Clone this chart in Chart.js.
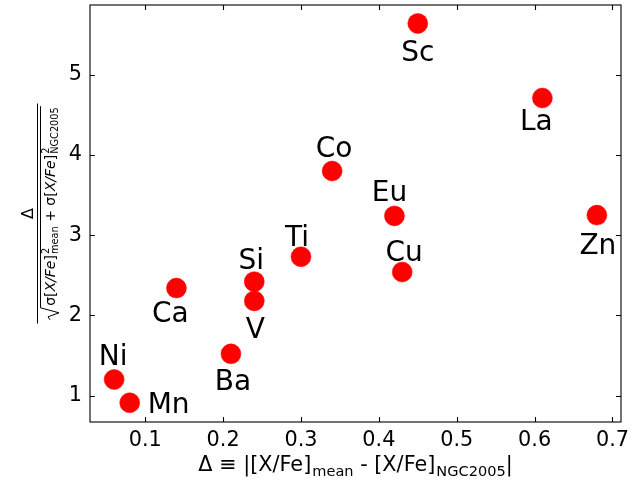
<!DOCTYPE html>
<html>
<head>
<meta charset="utf-8">
<script src="https://cdn.jsdelivr.net/npm/chart.js@4/dist/chart.umd.min.js"></script>
<style>
html,body{margin:0;padding:0;background:#fff;}
canvas{display:block;}
</style>
</head>
<body>
<canvas id="c" width="640" height="480"></canvas>
<script>
// ---- data ----
const elements = ["Ni","Mn","Ca","Ba","V","Si","Ti","Co","Eu","Cu","Sc","La","Zn"];
const deltaValues = [0.06,0.08,0.14,0.21,0.24,0.24,0.30,0.34,0.42,0.43,0.45,0.61,0.68];
const significance = [1.20,0.91,2.34,1.52,2.18,2.42,2.73,3.80,3.24,2.54,5.64,4.71,3.25];
const xTickValues = [0.1,0.2,0.3,0.4,0.5,0.6,0.7];
const yTickValues = [1,2,3,4,5];

// ---- styles (label placement in pixels relative to marker) ----
const labelStyle = {
  Ni:{dx:-1,dy:-14,align:"center"},
  Mn:{dx:18,dy:10,align:"left"},
  Ca:{dx:-6,dy:34,align:"center"},
  Ba:{dx:2,dy:36,align:"center"},
  V:{dx:1,dy:37,align:"center"},
  Si:{dx:-3,dy:-13,align:"center"},
  Ti:{dx:-4,dy:-11,align:"center"},
  Co:{dx:2,dy:-14,align:"center"},
  Eu:{dx:-5,dy:-15,align:"center"},
  Cu:{dx:2,dy:-11,align:"center"},
  Sc:{dx:0,dy:38,align:"center"},
  La:{dx:-6,dy:32,align:"center"},
  Zn:{dx:1,dy:39,align:"center"}
};
const FONT = "'DejaVu Sans'";

const points = deltaValues.map((x,i)=>({x:x,y:significance[i]}));

function drawMath(ctx, parts, x, baseline, size, measureOnly){
  let cx = x;
  for(const p of parts){
    if(p.stack){
      const s = size*0.7;
      ctx.font = s+"px "+FONT;
      const w1 = ctx.measureText(p.stack.sup).width;
      const w2 = ctx.measureText(p.stack.sub).width;
      if(!measureOnly){
        ctx.fillText(p.stack.sup, cx+1, baseline - size*0.42);
        ctx.fillText(p.stack.sub, cx+1, baseline + size*0.22);
      }
      cx += Math.max(w1,w2)+1;
    } else if(p.sub){
      const s = size*0.7;
      ctx.font = s+"px "+FONT;
      const w = ctx.measureText(p.t).width;
      if(!measureOnly) ctx.fillText(p.t, cx+1, baseline + size*0.22);
      cx += w+1;
    } else {
      ctx.font = (p.it?"oblique ":"")+size+"px "+FONT;
      const w = ctx.measureText(p.t).width;
      if(!measureOnly) ctx.fillText(p.t, cx, baseline);
      cx += w;
    }
  }
  return cx - x;
}

const decor = {
  id:"decor",
  afterDraw(chart){
    const ctx = chart.ctx;
    const a = chart.chartArea;
    const xs = chart.scales.x, ys = chart.scales.y;
    ctx.save();
    ctx.strokeStyle = "#000";
    ctx.lineWidth = 1.1;
    ctx.strokeRect(a.left, a.top, a.right-a.left, a.bottom-a.top);
    const tl = 5;
    ctx.beginPath();
    for(const v of xTickValues){
      const px = Math.round(xs.getPixelForValue(v))+0.5;
      ctx.moveTo(px, a.bottom); ctx.lineTo(px, a.bottom-tl);
      ctx.moveTo(px, a.top); ctx.lineTo(px, a.top+tl);
    }
    for(const v of yTickValues){
      const py = Math.round(ys.getPixelForValue(v))+0.5;
      ctx.moveTo(a.left, py); ctx.lineTo(a.left+tl, py);
      ctx.moveTo(a.right, py); ctx.lineTo(a.right-tl, py);
    }
    ctx.stroke();

    ctx.fillStyle = "#000";
    ctx.font = "28px "+FONT;
    ctx.textBaseline = "alphabetic";
    elements.forEach((name,i)=>{
      const st = labelStyle[name];
      const px = xs.getPixelForValue(deltaValues[i]);
      const py = ys.getPixelForValue(significance[i]);
      ctx.textAlign = st.align;
      ctx.fillText(name, px+st.dx, py+st.dy);
    });

    ctx.textAlign = "left";
    const xParts = [
      {t:"\u0394 \u2261 |[X/Fe]"},
      {t:"mean", sub:true},
      {t:" - [X/Fe]"},
      {t:"NGC2005", sub:true},
      {t:"|"}
    ];
    const xsz = 20.8;
    const wx = drawMath(ctx, xParts, 0, 0, xsz, true);
    drawMath(ctx, xParts, (a.left+a.right)/2 - wx/2, 471, xsz, false);

    const cy = (a.top+a.bottom)/2;
    ctx.translate(37, cy);
    ctx.rotate(-Math.PI/2);
    const fs = 14;
    ctx.font = "16px "+FONT;
    ctx.textAlign = "center";
    ctx.fillText("\u0394", 0, -4);
    ctx.textAlign = "left";
    const dParts = [
      {t:"\u03c3["},{t:"X/Fe",it:true},{t:"]"},
      {stack:{sup:"2",sub:"mean"}},
      {t:" + \u03c3["},{t:"X/Fe",it:true},{t:"]"},
      {stack:{sup:"2",sub:"NGC2005"}}
    ];
    const wd = drawMath(ctx, dParts, 0, 0, fs, true);
    const radW = 14;
    const total = wd + radW;
    const x0 = -total/2;
    const tx = x0 + radW;
    drawMath(ctx, dParts, tx, 18, fs, false);
    ctx.lineWidth = 1;
    ctx.beginPath();
    ctx.moveTo(-110, 0.5); ctx.lineTo(110, 0.5);
    ctx.stroke();
    ctx.beginPath();
    ctx.moveTo(x0, 13);
    ctx.lineTo(x0+3, 11);
    ctx.lineTo(x0+7, 22);
    ctx.lineTo(x0+12, 3.5);
    ctx.lineTo(tx+wd+1, 3.5);
    ctx.stroke();
    ctx.restore();
  }
};

new Chart(document.getElementById("c"), {
  type:"scatter",
  data:{datasets:[{
    data:points,
    backgroundColor:"#ff0000",
    borderColor:"#ff0000",
    borderWidth:0.5,
    pointRadius:10,
    pointHoverRadius:10
  }]},
  options:{
    responsive:false,
    animation:false,
    devicePixelRatio:1,
    layout:{autoPadding:false, padding:{top:5,right:19,left:0,bottom:0}},
    plugins:{legend:{display:false},tooltip:{enabled:false}},
    scales:{
      x:{
        type:"linear", min:0.029, max:0.711,
        afterBuildTicks(s){ s.ticks = xTickValues.map(v=>({value:v})); },
        afterFit(s){ s.height = 58; s.paddingLeft = 0; s.paddingRight = 0; },
        grid:{display:false, drawTicks:false},
        border:{display:false},
        ticks:{color:"#000", font:{family:FONT,size:20.8}, padding:6, maxRotation:0,
          callback:(v)=>Number(v).toFixed(1)}
      },
      y:{
        type:"linear", min:0.67, max:5.87,
        afterBuildTicks(s){ s.ticks = yTickValues.map(v=>({value:v})); },
        afterFit(s){ s.width = 90; s.paddingTop = 0; s.paddingBottom = 0; },
        grid:{display:false, drawTicks:false},
        border:{display:false},
        ticks:{color:"#000", font:{family:FONT,size:20.8}, padding:8,
          callback:(v)=>String(v)}
      }
    }
  },
  plugins:[decor]
});
</script>
</body>
</html>
